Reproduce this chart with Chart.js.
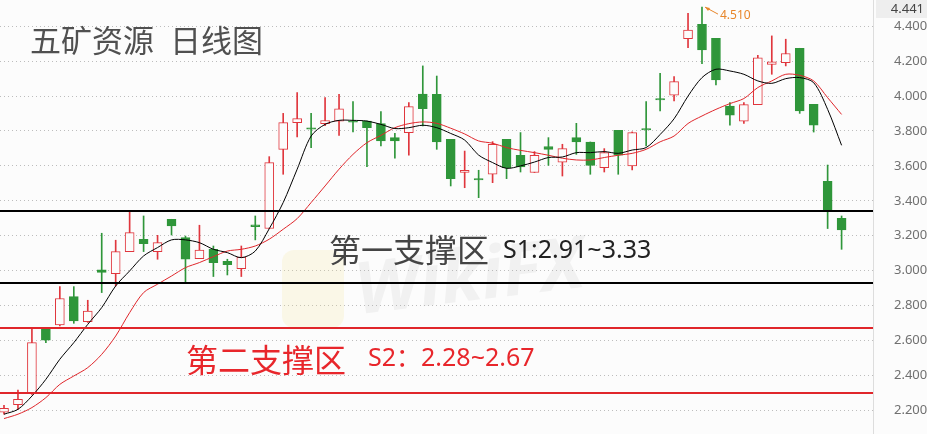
<!DOCTYPE html>
<html>
<head>
<meta charset="utf-8">
<script src="https://cdn.jsdelivr.net/npm/chart.js@4.4.1/dist/chart.umd.min.js"></script>
<style>
  html, body { margin: 0; padding: 0; background: #fcfcfc; }
  canvas { display: block; }
</style>
</head>
<body>
<canvas id="kline" width="927" height="434"></canvas>
<script>
// daily candles (index 0 = leftmost)
const opens  = [2.188,2.232,2.297,2.664,2.688,2.851,2.708,3.004,2.983,3.109, 3.179,3.109,3.294,3.189,3.069,3.122,3.053,3.011,3.262,3.241,
                3.695,3.848,3.818,3.842,3.857,3.858,3.857,3.842,3.762,3.791, 4.012,4.010,3.752,3.562,3.527,3.552,3.752,3.661,3.562,3.711,
                3.622,3.762,3.737,3.590,3.804,3.600,3.814,3.986,4.006,4.329, 4.411,4.331,3.943,3.857,3.951,4.182,4.192,4.274,3.953,3.512,3.300];
const highs  = [2.228,2.316,2.673,2.673,2.908,2.908,2.830,3.214,3.174,3.342, 3.313,3.202,3.294,3.198,3.260,3.141,3.065,3.141,3.313,3.653,
                3.901,4.020,3.901,3.991,4.010,3.968,3.857,3.911,3.787,3.963, 4.173,4.115,3.752,3.685,3.575,3.739,3.752,3.791,3.682,3.762,
                3.724,3.844,3.737,3.699,3.804,3.795,3.968,4.131,4.112,4.474, 4.510,4.331,3.963,3.963,4.234,4.345,4.326,4.274,3.953,3.605,3.313];
const lows   = [2.177,2.205,2.291,2.587,2.683,2.698,2.703,2.874,2.912,3.109, 3.109,3.065,3.204,2.927,3.069,2.966,2.975,2.966,3.176,3.241,
                3.552,3.766,3.705,3.830,3.775,3.794,3.596,3.714,3.644,3.662, 3.829,3.695,3.485,3.475,3.418,3.504,3.527,3.565,3.562,3.603,
                3.542,3.666,3.552,3.565,3.552,3.577,3.714,3.915,3.972,4.278, 4.186,4.064,3.833,3.844,3.951,4.125,4.173,3.901,3.794,3.241,3.122];
const closes = [2.211,2.262,2.587,2.602,2.840,2.711,2.768,2.989,3.109,3.218, 3.155,3.160,3.256,3.065,3.118,3.046,3.034,3.078,3.252,3.619,
                3.848,3.871,3.810,3.860,3.927,3.850,3.819,3.743,3.743,3.940, 3.928,3.737,3.527,3.575,3.519,3.724,3.590,3.594,3.661,3.695,
                3.699,3.737,3.603,3.676,3.661,3.791,3.806,3.978,4.083,4.379, 4.264,4.092,3.890,3.951,4.220,4.196,4.244,3.915,3.834,3.347,3.233];

// moving averages (black short, red long)
const maShort = [2.177,2.205,2.281,2.377,2.492,2.587,2.692,2.788,2.912,2.998, 3.084,3.132,3.176,3.176,3.160,3.122,3.103,3.074,3.112,3.240,
                 3.390,3.581,3.771,3.838,3.861,3.861,3.857,3.838,3.814,3.819, 3.833,3.819,3.786,3.748,3.662,3.619,3.586,3.600,3.622,3.648,
                 3.651,3.676,3.676,3.682,3.672,3.691,3.705,3.780,3.870,4.000, 4.106,4.154,4.144,4.125,4.087,4.073,4.100,4.106,4.077,3.924,3.718];
const maLong  = [2.152,2.177,2.215,2.272,2.348,2.396,2.444,2.520,2.625,2.759, 2.874,2.922,2.969,3.017,3.046,3.080,3.112,3.122,3.141,3.180,
                 3.237,3.298,3.390,3.485,3.581,3.666,3.733,3.775,3.819,3.842, 3.852,3.844,3.816,3.783,3.743,3.730,3.705,3.689,3.676,3.661,
                 3.644,3.634,3.634,3.648,3.661,3.672,3.695,3.738,3.771,3.843, 3.886,3.924,3.957,3.986,4.049,4.087,4.125,4.119,4.087,3.991,3.895];

const yTicks = [2.2, 2.4, 2.6, 2.8, 3.0, 3.2, 3.4, 3.6, 3.8, 4.0, 4.2, 4.4];
const supportLevels = [3.342, 2.931, 2.673, 2.297];   // S1 top/bottom, S2 top/bottom as drawn
const topPriceLabel = '4.441';

const UP = '#e0363d', DOWN = '#2f963a';
const idx = opens.map((v, i) => i);
const isUp = idx.map(i => closes[i] >= opens[i]);
const candleColors = isUp.map(u => u ? UP : DOWN);

const overlay = {
  id: 'overlay',
  beforeDraw(chart) {
    const ctx = chart.ctx;
    ctx.save();
    ctx.fillStyle = '#fcfcfc';
    ctx.fillRect(0, 0, chart.width, chart.height);
    ctx.restore();
  },
  beforeDatasetsDraw(chart) {
    // faint watermark
    const ctx = chart.ctx;
    ctx.save();
    ctx.fillStyle = 'rgba(245,225,140,0.18)';
    ctx.beginPath();
    ctx.roundRect(282, 250, 62, 78, 12);
    ctx.fill();
    ctx.translate(470, 280);
    ctx.rotate(-0.12);
    ctx.font = 'bold italic 72px "Open Sans"';
    ctx.fillStyle = 'rgba(170,170,170,0.13)';
    ctx.textAlign = 'center';
    ctx.textBaseline = 'middle';
    ctx.fillText('WikiFX', 0, 0);
    ctx.restore();
  },
  afterDatasetsDraw(chart) {
    const ctx = chart.ctx, y = chart.scales.y, x = chart.scales.x, area = chart.chartArea;
    ctx.save();
    supportLevels.forEach((lv, k) => {
      const py = Math.round(y.getPixelForValue(lv));
      ctx.strokeStyle = k < 2 ? '#000000' : '#e0262b';
      ctx.lineWidth = 2;
      ctx.beginPath();
      ctx.moveTo(area.left, py);
      ctx.lineTo(area.right, py);
      ctx.stroke();
    });
    // max high marker
    let hi = 0;
    highs.forEach((v, i) => { if (v > highs[hi]) hi = i; });
    const hx = x.getPixelForValue(hi), hy = y.getPixelForValue(highs[hi]);
    ctx.strokeStyle = '#e8862a';
    ctx.fillStyle = '#e8862a';
    ctx.lineWidth = 1;
    ctx.beginPath();
    ctx.moveTo(hx + 3, hy);
    ctx.lineTo(hx + 16, hy + 7);
    ctx.stroke();
    ctx.beginPath();
    ctx.moveTo(hx + 3, hy);
    ctx.lineTo(hx + 8, hy + 1);
    ctx.lineTo(hx + 6, hy + 4);
    ctx.closePath();
    ctx.fill();
    ctx.font = '12px "Noto Sans"';
    ctx.textBaseline = 'middle';
    ctx.fillText(highs[hi].toFixed(3), hx + 18, hy + 8);
    ctx.restore();
  },
  afterDraw(chart) {
    const ctx = chart.ctx;
    ctx.save();
    ctx.textBaseline = 'middle';
    ctx.font = '31px "Noto Sans CJK SC"';
    ctx.fillStyle = '#505050';
    ctx.fillText('五矿资源', 30, 40);
    ctx.fillText('日线图', 170, 40);

    ctx.font = '32px "Noto Sans CJK SC"';
    ctx.fillStyle = '#444444';
    ctx.fillText('第一支撑区', 329, 250);
    ctx.font = '25px "Noto Sans", "Noto Sans CJK SC"';
    ctx.fillStyle = '#222222';
    ctx.fillText('S1:2.91~3.33', 503, 251);

    ctx.font = '32px "Noto Sans CJK SC"';
    ctx.fillStyle = '#e8262b';
    ctx.fillText('第二支撑区', 186, 360);
    ctx.font = '25px "Noto Sans", "Noto Sans CJK SC"';
    ctx.fillText('S2：2.28~2.67', 368, 359);

    // current price box at top of the axis
    ctx.fillStyle = '#eeeeee';
    ctx.fillRect(876, 0, 51, 18);
    ctx.font = '13px "Noto Sans"';
    ctx.fillStyle = '#444444';
    ctx.textAlign = 'right';
    ctx.fillText(topPriceLabel, 924, 9);
    ctx.restore();
  }
};

new Chart(document.getElementById('kline'), {
  type: 'bar',
  data: {
    datasets: [
      {
        type: 'line', label: 'MA short', order: 0,
        data: idx.map(i => ({ x: i, y: maShort[i] })),
        borderColor: '#000000', borderWidth: 1, pointRadius: 0, tension: 0.3
      },
      {
        type: 'line', label: 'MA long', order: 0,
        data: idx.map(i => ({ x: i, y: maLong[i] })),
        borderColor: '#e0262b', borderWidth: 1, pointRadius: 0, tension: 0.3
      },
      {
        label: 'body', order: 1, grouped: false,
        data: idx.map(i => ({ x: i, y: [opens[i], closes[i]] })),
        backgroundColor: isUp.map(u => u ? '#fcfcfc' : DOWN),
        borderColor: candleColors, borderWidth: 1, borderSkipped: false,
        barThickness: 9
      },
      {
        label: 'wick', order: 2, grouped: false,
        data: idx.map(i => ({ x: i, y: [lows[i], highs[i]] })),
        backgroundColor: candleColors, borderWidth: 0,
        barThickness: 1
      }
    ]
  },
  options: {
    responsive: false,
    animation: false,
    devicePixelRatio: 1,
    layout: { padding: 0 },
    plugins: { legend: { display: false }, tooltip: { enabled: false } },
    scales: {
      x: { type: 'linear', display: false, offset: false, grid: { offset: false }, min: -0.2865, max: 62.25 },
      y: {
        position: 'right',
        min: 2.0636, max: 4.5507,
        afterBuildTicks: axis => { axis.ticks = yTicks.map(v => ({ value: v })); },
        afterFit: axis => { axis.width = 54; axis.paddingTop = 0; axis.paddingBottom = 0; },
        grid: { color: '#bdbdbd', drawTicks: false },
        border: { display: true, color: '#dddddd', dash: [1, 3] },
        ticks: {
          padding: 21, color: '#707070',
          font: { family: 'Noto Sans', size: 13 },
          callback: v => Number(v).toFixed(3)
        }
      }
    }
  },
  plugins: [overlay]
});
</script>
</body>
</html>
